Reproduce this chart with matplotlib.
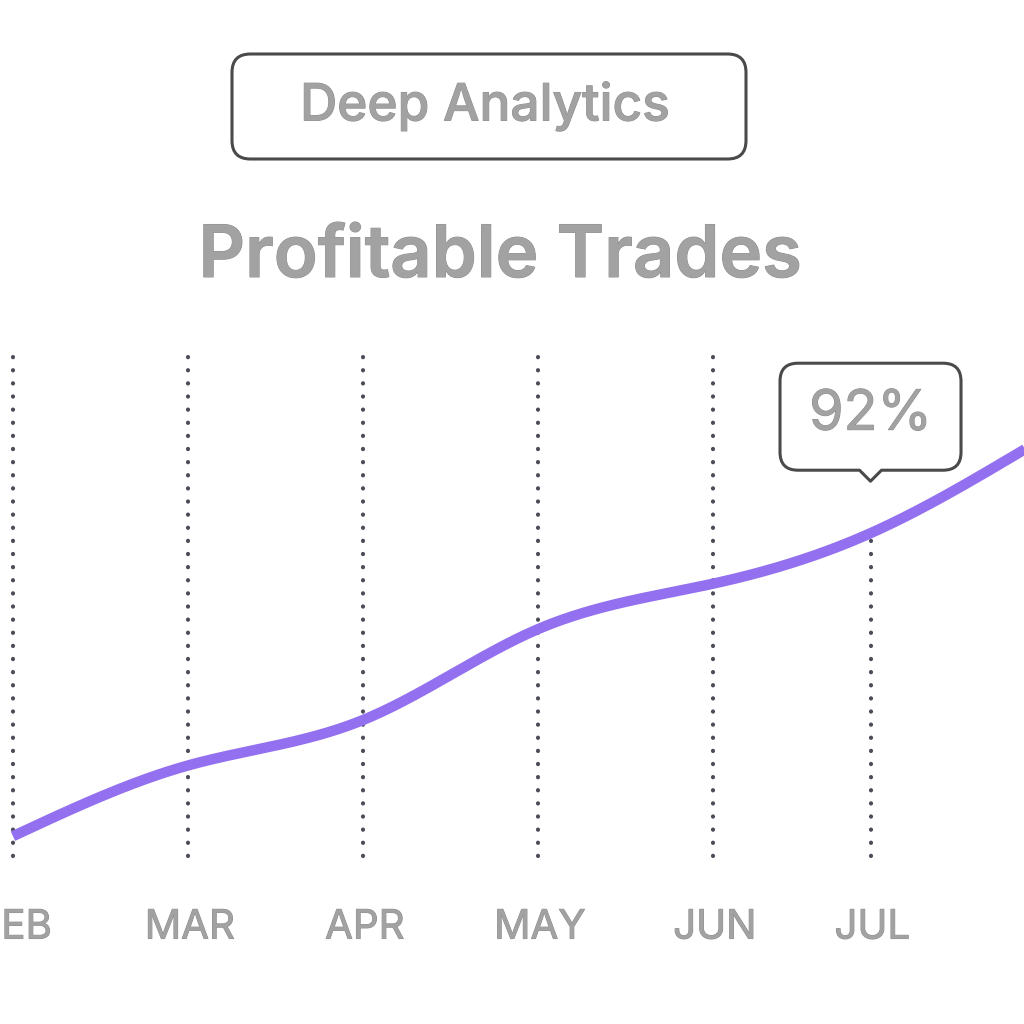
import numpy as np
import matplotlib
matplotlib.use("Agg")
import matplotlib.pyplot as plt
import matplotlib.patheffects as pe
from matplotlib.path import Path
from matplotlib.patches import PathPatch, FancyBboxPatch

plt.rcParams["font.family"] = ["Inter", "DejaVu Sans"]

months = ["FEB", "MAR", "APR", "MAY", "JUN", "JUL"]
month_pos = [0.0, 1.0, 2.0, 3.0, 4.0, 4.9]
profit_pct = [62, 69, 73.5, 82.5, 87, 92]
# curve keeps going past the frame
tail_pos = 5.8
tail_pct = 100.5
callout_month = "JUL"
callout_text = "92%"

line_color = "#9370ef"
text_gray = "#a2a2a2"
dot_color = "#4a4c57"
outline = [pe.withStroke(linewidth=0.7, foreground="#8c8c8c")]


def natural_spline(x, y, n=400):
    x = np.asarray(x, float)
    y = np.asarray(y, float)
    k = len(x)
    h = np.diff(x)
    A = np.zeros((k, k))
    b = np.zeros(k)
    A[0, 0] = A[-1, -1] = 1
    for i in range(1, k - 1):
        A[i, i - 1] = h[i - 1]
        A[i, i] = 2 * (h[i - 1] + h[i])
        A[i, i + 1] = h[i]
        b[i] = 3 * ((y[i + 1] - y[i]) / h[i] - (y[i] - y[i - 1]) / h[i - 1])
    c = np.linalg.solve(A, b)
    xs = np.linspace(x[0], x[-1], n)
    ys = np.empty_like(xs)
    for j, xv in enumerate(xs):
        i = min(np.searchsorted(x, xv, side="right") - 1, k - 2)
        d = xv - x[i]
        bi = (y[i + 1] - y[i]) / h[i] - h[i] * (2 * c[i] + c[i + 1]) / 3
        di = (c[i + 1] - c[i]) / (3 * h[i])
        ys[j] = y[i] + bi * d + c[i] * d ** 2 + di * d ** 3
    return xs, ys


fig = plt.figure(figsize=(10.24, 10.24), dpi=100)
ax = fig.add_axes([0, 0, 1, 1])
ax.set_xlim(-0.074, 5.777)
ax.set_ylim(43.4, 144.8)
ax.axis("off")

# dotted month guides
for m, xp, yp in zip(months, month_pos, profit_pct):
    top = 110.6 if m != callout_month else yp - 0.5
    ax.plot([xp, xp], [60.0, top], color=dot_color, lw=3.0,
            linestyle=(0, (0.05, 3.1)), dash_capstyle="round", zorder=1)
    ax.text(xp + 0.01, 52.9, m, ha="center", va="center", fontsize=29,
            color=text_gray, fontweight="normal", path_effects=outline)

xs, ys = natural_spline(month_pos + [tail_pos], profit_pct + [tail_pct])
ax.plot(xs, ys, color=line_color, lw=7.5, solid_capstyle="butt", zorder=3)

# callout bubble with a pointer down to the JUL point
ci = months.index(callout_month)
px, py = ax.transData.transform((month_pos[ci], profit_pct[ci]))
tip_y = py + 51
w, h, r, pw, ph = 181, 107, 18, 11, 12
x0, x1 = px - w / 2, px + w / 2
y0 = tip_y + ph
y1 = y0 + h
verts = [
    (px, tip_y + 1), (px - pw, y0),
    (x0 + r, y0), (x0, y0), (x0, y0 + r),
    (x0, y1 - r), (x0, y1), (x0 + r, y1),
    (x1 - r, y1), (x1, y1), (x1, y1 - r),
    (x1, y0 + r), (x1, y0), (x1 - r, y0),
    (px + pw, y0), (px, tip_y + 1), (px, tip_y + 1),
]
codes = [Path.MOVETO, Path.LINETO,
         Path.LINETO, Path.CURVE3, Path.CURVE3,
         Path.LINETO, Path.CURVE3, Path.CURVE3,
         Path.LINETO, Path.CURVE3, Path.CURVE3,
         Path.LINETO, Path.CURVE3, Path.CURVE3,
         Path.LINETO, Path.LINETO, Path.CLOSEPOLY]
bubble = PathPatch(Path(verts, codes), transform=None, facecolor="white",
                   edgecolor="#4a4a4a", lw=2.2, joinstyle="round", zorder=5)
fig.patches.append(bubble)
fig.text(px / 1024, (y0 + h / 2 + 2) / 1024, callout_text, ha="center",
         va="center", fontsize=40, color=text_gray, zorder=6,
         fontweight="normal", path_effects=outline)

# header
badge = FancyBboxPatch((232 / 1024, 1 - 159 / 1024), 514 / 1024, 105 / 1024,
                       boxstyle="round,pad=0,rounding_size=0.018",
                       transform=fig.transFigure, facecolor="white",
                       edgecolor="#4a4a4a", lw=2.2)
fig.patches.append(badge)
fig.text(485 / 1024, 1 - 106 / 1024, "Deep Analytics", ha="center",
         va="center", fontsize=37, color=text_gray, fontweight="medium",
         path_effects=outline)
fig.text(500 / 1024, 1 - 258 / 1024, "Profitable Trades", ha="center",
         va="center", fontsize=52, color=text_gray, fontweight="semibold",
         path_effects=outline)

fig.savefig("out.png", dpi=100, facecolor="white")
